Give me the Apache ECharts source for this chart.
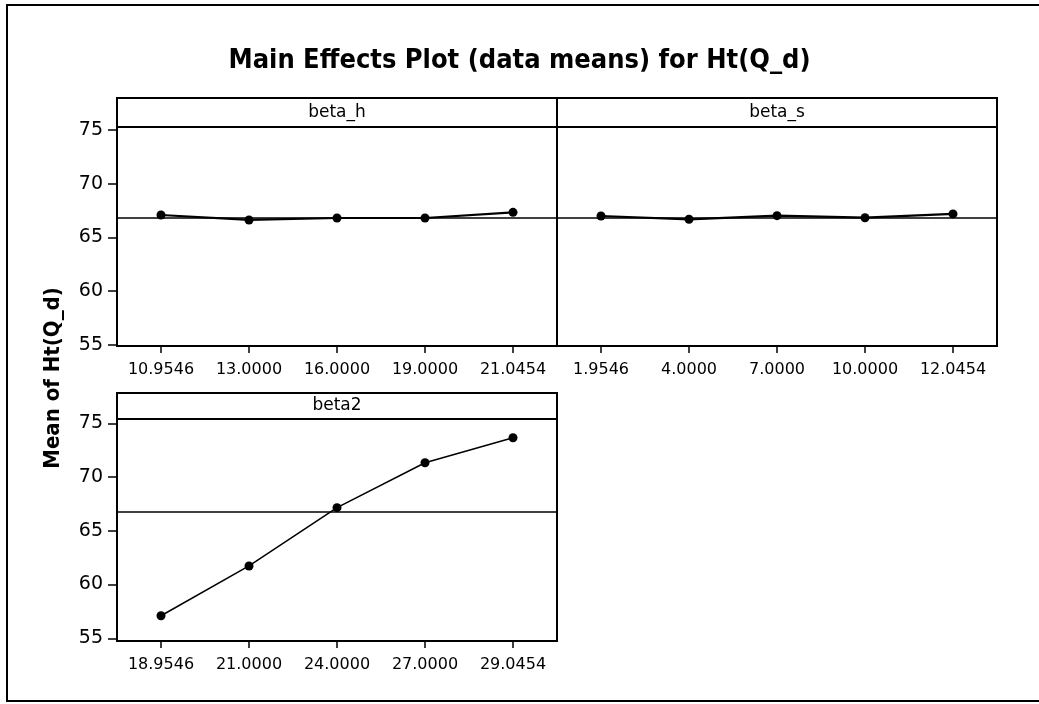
<!DOCTYPE html>
<html>
<head>
<meta charset="utf-8">
<style>
  html, body { margin: 0; padding: 0; background: #fff; }
  #chart { width: 1039px; height: 704px; }
</style>
<script src="https://cdn.jsdelivr.net/npm/echarts@6/dist/echarts.min.js"></script>
</head>
<body>
<div id="chart"></div>
<script>
// ---- data ----
const titleText = 'Main Effects Plot (data means) for Ht(Q_d)';
const yAxisTitle = 'Mean of Ht(Q_d)';
const panelNames = ['beta_h', 'beta_s', 'beta2'];
const betaHLevels = ['10.9546', '13.0000', '16.0000', '19.0000', '21.0454'];
const betaHMeans = [67.09, 66.63, 66.81, 66.81, 67.34];
const betaSLevels = ['1.9546', '4.0000', '7.0000', '10.0000', '12.0454'];
const betaSMeans = [67.00, 66.69, 67.03, 66.84, 67.19];
const beta2Levels = ['18.9546', '21.0000', '24.0000', '27.0000', '29.0454'];
const beta2Means = [57.10, 61.73, 67.15, 71.33, 73.66];
const grandMean = 66.8;
const yTickValues = [55, 60, 65, 70, 75];

// ---- layout ----
const FONT = 'DejaVu Sans';
const BOLD_FONT = '"DejaVu Sans Condensed", "DejaVu Sans"';
const panels = [
  { name: panelNames[0], cats: betaHLevels, vals: betaHMeans, left: 117, top: 127, width: 440, height: 219, min: 54.9, max: 75.28, showY: true },
  { name: panelNames[1], cats: betaSLevels, vals: betaSMeans, left: 557, top: 127, width: 440, height: 219, min: 54.9, max: 75.28, showY: false },
  { name: panelNames[2], cats: beta2Levels, vals: beta2Means, left: 117, top: 419, width: 440, height: 222, min: 54.75, max: 75.4, showY: true }
];
const headerH = [29, 29, 26];

const grids = [], xAxes = [], yAxes = [], series = [], graphics = [];
panels.forEach((p, i) => {
  grids.push({ left: p.left, top: p.top, width: p.width, height: p.height, show: true,
    borderColor: '#000', borderWidth: 2, backgroundColor: 'transparent', containLabel: false });
  xAxes.push({ type: 'category', gridIndex: i, data: p.cats, boundaryGap: true,
    axisLine: { show: true, lineStyle: { color: '#000', width: 2 } },
    axisTick: { show: true, alignWithLabel: true, length: 7, lineStyle: { color: '#000', width: 1.5 } },
    axisLabel: { color: '#000', fontFamily: FONT, fontSize: 16, margin: 16, interval: 0 },
    splitLine: { show: false } });
  yAxes.push({ type: 'value', gridIndex: i, min: p.min, max: p.max,
    axisLine: { show: true, lineStyle: { color: '#000', width: 2 } },
    axisTick: { show: p.showY, length: 9, customValues: yTickValues, lineStyle: { color: '#000', width: 1.5 } },
    axisLabel: { show: p.showY, customValues: yTickValues, color: '#000', fontFamily: FONT, fontSize: 19, margin: 14 },
    splitLine: { show: false } });
  series.push({ type: 'line', xAxisIndex: i, yAxisIndex: i, data: p.vals,
    symbol: 'circle', symbolSize: 9, itemStyle: { color: '#000' },
    lineStyle: { color: '#000', width: i === 2 ? 1.5 : 2.2 },
    markLine: { silent: true, symbol: 'none', label: { show: false },
      lineStyle: { color: '#000', width: 1.5, type: 'solid' },
      data: [{ yAxis: grandMean }] },
    animation: false });
  // header strip
  const hh = headerH[i];
  graphics.push({ type: 'rect', shape: { x: p.left, y: p.top - hh, width: p.width, height: hh },
    style: { fill: '#fff', stroke: '#000', lineWidth: 2 } });
  graphics.push({ type: 'text', x: p.left + p.width / 2, y: p.top - hh / 2,
    style: { text: p.name, fill: '#000', font: '17px ' + FONT, textAlign: 'center', textVerticalAlign: 'middle' } });
});

// outer frame
graphics.push({ type: 'rect', shape: { x: 7, y: 5, width: 1100, height: 696 },
  style: { fill: 'none', stroke: '#000', lineWidth: 2 }, z: 10 });
// y-axis title
graphics.push({ type: 'text', x: 53, y: 378, rotation: Math.PI / 2,
  style: { text: yAxisTitle, fill: '#000', font: 'bold 22px ' + BOLD_FONT, textAlign: 'center', textVerticalAlign: 'middle' } });

const chart = echarts.init(document.getElementById('chart'), null, { renderer: 'canvas' });
chart.setOption({
  backgroundColor: '#fff',
  animation: false,
  title: { text: titleText, left: 'center', top: 42,
    textStyle: { color: '#000', fontFamily: BOLD_FONT, fontWeight: 'bold', fontSize: 27 } },
  grid: grids,
  xAxis: xAxes,
  yAxis: yAxes,
  series: series,
  graphic: graphics
});
</script>
</body>
</html>
